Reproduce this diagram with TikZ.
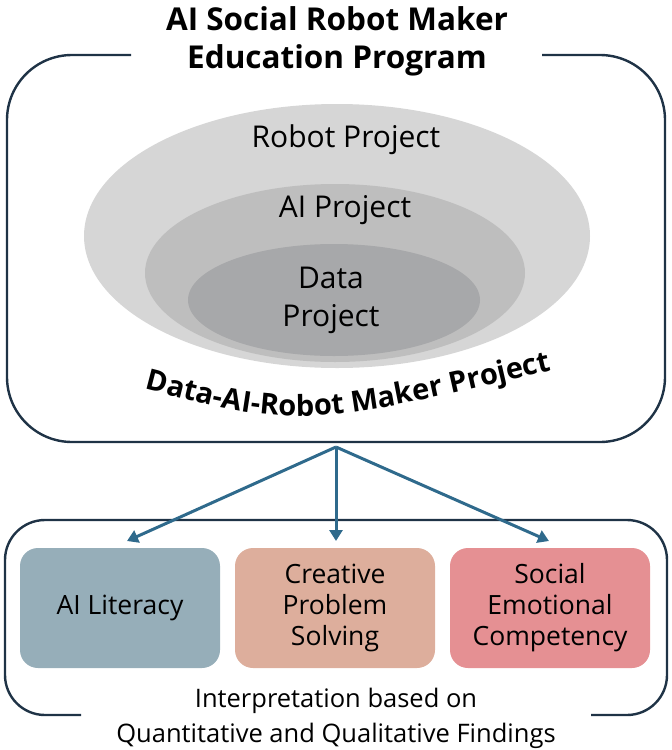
\documentclass[tikz,border=0pt]{standalone}
\usepackage{fontspec}
\setmainfont{Open Sans}
\usetikzlibrary{arrows.meta,shapes.geometric,decorations.text}
\definecolor{framec}{HTML}{1F3346}
\definecolor{arrowc}{HTML}{2F6A8C}
\definecolor{ell1}{HTML}{D6D6D6}
\definecolor{ell2}{HTML}{BEBEBE}
\definecolor{ell3}{HTML}{A7A8AA}
\definecolor{boxa}{HTML}{96AEB9}
\definecolor{boxb}{HTML}{DDAE9C}
\definecolor{boxc}{HTML}{E59093}
\tikzset{
  framepath/.style={draw=framec, line width=2.4pt},
  conn/.style={draw=arrowc, line width=3pt, -{Triangle[width=13pt,length=11pt]}},
  ellshape/.style={ellipse, inner sep=0pt},
  outcome/.style={rounded corners=18pt, minimum width=200pt, minimum height=120pt, align=center, inner sep=2pt, font=\fontsize{26.5}{31}\selectfont},
  elltext/.style={font=\fontsize{30}{38}\selectfont, align=center},
}
\begin{document}
\begin{tikzpicture}[x=1pt,y=-1pt]
\useasboundingbox (0,0) rectangle (672,750);
% top frame
\draw[framepath, rounded corners=65pt] (131,55) -- (7,55) -- (7,442) -- (665,442) -- (665,55) -- (542,55);
\node[font=\bfseries\fontsize{31.5}{38}\selectfont, align=center] (title) at (337,41) {AI Social Robot Maker\\Education Program};
% ellipses
\node[ellshape, fill=ell1, minimum width=506pt, minimum height=264pt] (robot) at (337,236) {};
\node[ellshape, fill=ell2, minimum width=380pt, minimum height=178pt] (ai) at (335,273) {};
\node[ellshape, fill=ell3, minimum width=292pt, minimum height=112pt] (data) at (334,300) {};
\node[elltext] (robotlbl) at (346,140) {Robot Project};
\node[elltext] (ailbl) at (345,210) {AI Project};
\node[elltext] (datalbl) at (331,300) {Data\\Project};
% curved label
\path[decorate, decoration={text along path, text align=center,
  text={|\bfseries\fontsize{29}{32}\selectfont|Data-AI-Robot Maker Project}}]
  (118,382) .. controls (300,430) .. (578,364);
% bottom frame
\draw[framepath, rounded corners=40pt] (81,715) -- (5,715) -- (5,520) -- (667,520) -- (667,715) -- (591,715);
% outcome boxes
\node[outcome, fill=boxa] (lit) at (120,608) {AI Literacy};
\node[outcome, fill=boxb] (cps) at (335,608) {Creative\\Problem\\Solving};
\node[outcome, fill=boxc] (sec) at (550,608) {Social\\Emotional\\Competency};
\node[font=\fontsize{25.5}{35}\selectfont, align=center] (interp) at (336,718) {Interpretation based on\\Quantitative and Qualitative Findings};
% arrows
\coordinate (src) at (336,447);
\coordinate (ta) at (127,541);
\coordinate (tb) at (336,541);
\coordinate (tc) at (549,541);
\draw[conn] (src) -- (ta);
\draw[conn] (src) -- (tb);
\draw[conn] (src) -- (tc);
\end{tikzpicture}
\end{document}
